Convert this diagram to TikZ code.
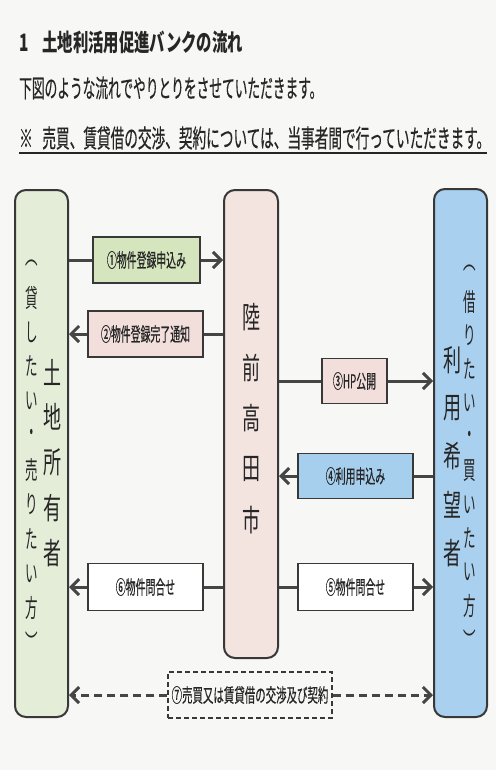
\documentclass[tikz,border=0pt]{standalone}
\usepackage{fontspec}
\usepackage{graphicx}
\setmainfont{Noto Sans CJK JP}
\newfontfamily\medfont{Noto Sans CJK JP}[FakeBold=0.6]
\usetikzlibrary{arrows.meta}
\definecolor{bg}{HTML}{F7F8F6}
\definecolor{lgreen}{HTML}{E4EDD8}
\definecolor{lpink}{HTML}{F3E4E0}
\definecolor{lblue}{HTML}{A9D0EE}
\definecolor{bgreen}{HTML}{D5E5BD}
\definecolor{bpink}{HTML}{F2DEDB}
\definecolor{bblue}{HTML}{A6CFEE}
\definecolor{edge}{HTML}{383838}
\definecolor{arrowc}{HTML}{454545}
\definecolor{textc}{HTML}{262626}
\newcommand\cnd[2]{\scalebox{#1}[1]{#2}}
\newcommand\boxfont{\medfont\fontsize{19}{21}\selectfont}
\begin{document}
\begin{tikzpicture}[x=1pt,y=-1pt,
  every node/.style={text=textc},
  bigbox/.style={draw=edge, line width=2pt, rounded corners=11pt, inner sep=0pt},
  smallbox/.style={draw=edge, line width=1.5pt, inner sep=0pt, font=\boxfont},
  dashbox/.style={smallbox, dash pattern=on 5pt off 3pt},
  bigchar/.style={inner sep=0pt, font=\fontsize{30}{32}\selectfont},
  parchar/.style={inner sep=0pt, font=\fontsize{25}{27}\selectfont},
  plainline/.style={line width=3pt, draw=arrowc},
  arr/.style={plainline, -{Straight Barb[length=8pt,width=16pt]}},
  darr/.style={arr, dash pattern=on 8pt off 5pt}
]
\useasboundingbox[fill=bg] (0,0) rectangle (496,770);

% heading texts
\node[anchor=west, inner sep=0pt, font=\bfseries\fontsize{24}{27}\selectfont] (title) at (19,42)
  {\cnd{0.64}{1\hspace{0.9em}土地利活用促進バンクの流れ}};
\node[anchor=west, inner sep=0pt, font=\medfont\fontsize{25}{28}\selectfont] (line2) at (19,88)
  {\cnd{0.508}{下図のような流れでやりとりをさせていただきます。}};
\node[anchor=west, inner sep=0pt, font=\medfont\fontsize{25}{28}\selectfont] (line3) at (19,138)
  {\cnd{0.546}{※\hspace{0.7em}売買、賃貸借の交渉、契約については、当事者間で行っていただきます。}};
\draw[line width=1.2pt, draw=textc] (line3.west |- 0,153) -- (487,153);

% big boxes
\node[bigbox, fill=lgreen, minimum width=53pt, minimum height=527pt] (L) at (41.5,453.5) {};
\node[bigbox, fill=lpink, minimum width=54pt, minimum height=468pt] (C) at (251,424) {};
\node[bigbox, fill=lblue, minimum width=53pt, minimum height=528pt] (R) at (460.5,453) {};

% vertical texts
\foreach \c [count=\i from 0] in {︵,貸,し,た,い,・,売,り,た,い,方,︶}
  \node[parchar] (lp\i) at (32,263+34.5*\i) {\cnd{0.5}{\c}};
\foreach \c [count=\i from 0] in {土,地,所,有,者}
  \node[bigchar] (lm\i) at (52,372+45.25*\i) {\cnd{0.6}{\c}};
\foreach \c [count=\i from 0] in {陸,前,高,田,市}
  \node[bigchar] (cm\i) at (251,317+50.75*\i) {\cnd{0.6}{\c}};
\foreach \c [count=\i from 0] in {利,用,希,望,者}
  \node[bigchar] (rm\i) at (452,360+48.25*\i) {\cnd{0.6}{\c}};
\foreach \c [count=\i from 0] in {︵,借,り,た,い,・,買,い,た,い,方,︶}
  \node[parchar] (rp\i) at (470,268+33.8*\i) {\cnd{0.5}{\c}};

% small boxes
\node[smallbox, fill=bgreen, minimum width=107pt, minimum height=46pt] (b1) at (146.5,260) {\cnd{0.52}{①物件登録申込み}};
\node[smallbox, fill=bpink, minimum width=115pt, minimum height=46pt] (b2) at (145.5,334) {\cnd{0.52}{②物件登録完了通知}};
\node[smallbox, fill=bpink, minimum width=65pt, minimum height=45pt] (b3) at (354.5,381) {\cnd{0.52}{③HP公開}};
\node[smallbox, fill=bblue, minimum width=115pt, minimum height=45pt] (b4) at (355.5,476) {\cnd{0.52}{④利用申込み}};
\node[smallbox, fill=white, minimum width=115pt, minimum height=47pt] (b5) at (355.5,587) {\cnd{0.52}{⑤物件問合せ}};
\node[smallbox, fill=white, minimum width=115pt, minimum height=47pt] (b6) at (145.5,587) {\cnd{0.52}{⑥物件問合せ}};
\node[dashbox, fill=bg, minimum width=164pt, minimum height=46pt] (b7) at (250,695) {\cnd{0.55}{⑦売買又は賃貸借の交渉及び契約}};

% connectors
\draw[plainline] (L.east |- b1.west) -- (b1.west);
\draw[arr] (b1.east) -- (C.west |- b1.east);
\draw[plainline] (C.west |- b2.east) -- (b2.east);
\draw[arr] (b2.west) -- (L.east |- b2.west);
\draw[plainline] (C.east |- b3.west) -- (b3.west);
\draw[arr] (b3.east) -- (R.west |- b3.east);
\draw[plainline] (R.west |- b4.east) -- (b4.east);
\draw[arr] (b4.west) -- (C.east |- b4.west);
\draw[plainline] (C.east |- b5.west) -- (b5.west);
\draw[arr] (b5.east) -- (R.west |- b5.east);
\draw[plainline] (C.west |- b6.east) -- (b6.east);
\draw[arr] (b6.west) -- (L.east |- b6.west);
\draw[darr] (b7.west) -- (L.east |- b7.west);
\draw[darr] (b7.east) -- (R.west |- b7.east);
\end{tikzpicture}
\end{document}
